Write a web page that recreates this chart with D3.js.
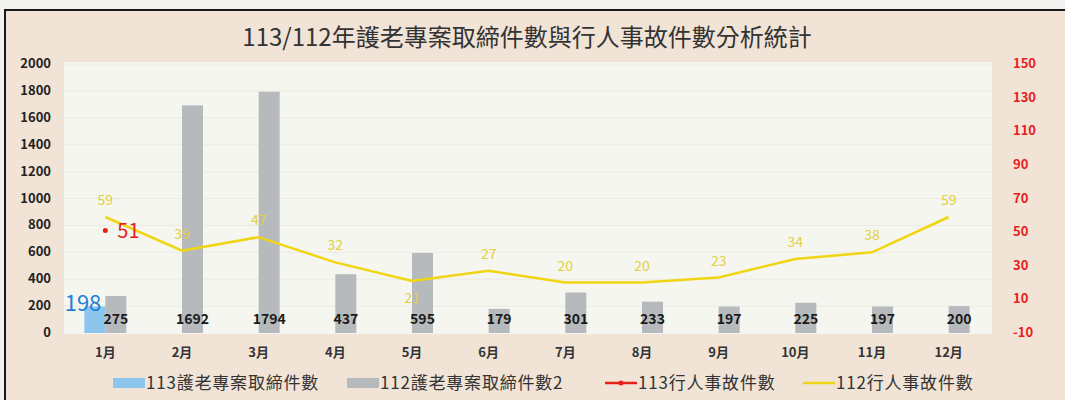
<!DOCTYPE html>
<html>

<head>
    <meta charset="utf-8">
    <title>113/112年護老專案取締件數與行人事故件數分析統計</title>
    <script src="https://cdnjs.cloudflare.com/ajax/libs/d3/7.8.5/d3.min.js"></script>
    <style>
        body { margin: 0; background: #f2f2f0; }
        text { font-family: "Noto Sans CJK TC", "Noto Sans", sans-serif; }
        .tick-left, .tick-right, .month { font-weight: bold; font-size: 13px; }
    </style>
</head>

<body>
    <div id="chart"></div>
    <script>
        // data
        const months = ["1月", "2月", "3月", "4月", "5月", "6月", "7月", "8月", "9月", "10月", "11月", "12月"];
        const enf113 = [198, null, null, null, null, null, null, null, null, null, null, null];
        const enf112 = [275, 1692, 1794, 437, 595, 179, 301, 233, 197, 225, 197, 200];
        const acc113 = [51, null, null, null, null, null, null, null, null, null, null, null];
        const acc112 = [59, 39, 47, 32, 21, 27, 20, 20, 23, 34, 38, 59];
        const leftTicks = [0, 200, 400, 600, 800, 1000, 1200, 1400, 1600, 1800, 2000];
        const rightTicks = [-10, 10, 30, 50, 70, 90, 110, 130, 150];
        const legendNames = ["113護老專案取締件數", "112護老專案取締件數2", "113行人事故件數", "112行人事故件數"];

        const W = 1065, H = 400;
        const svg = d3.select("#chart").append("svg")
            .attr("width", W).attr("height", H);

        // outer frame
        svg.append("rect").attr("x", 5).attr("y", 10).attr("width", W + 10).attr("height", H)
            .attr("fill", "#f1e3d6").attr("stroke", "#1a1a1a").attr("stroke-width", 2);

        // scales
        const x = d3.scaleBand().domain(months).range([67, 987]);
        const yL = d3.scaleLinear().domain([0, 2000]).range([333, 64]);
        const yR = d3.scaleLinear().domain([-10, 150]).range([333, 64]);
        const bw = 21;

        // plot area
        svg.append("rect").attr("x", 64).attr("y", 62).attr("width", 928).attr("height", 272)
            .attr("fill", "#f5f6ef");

        svg.append("g").selectAll("line").data(leftTicks.slice(1)).join("line")
            .attr("x1", 64).attr("x2", 992)
            .attr("y1", d => yL(d)).attr("y2", d => yL(d))
            .attr("stroke", "#ebebe3").attr("stroke-width", 1);

        // title
        svg.append("text").attr("x", 527).attr("y", 46).attr("text-anchor", "middle")
            .attr("font-size", 24).attr("fill", "#333")
            .text("113/112年護老專案取締件數與行人事故件數分析統計");

        // axes
        svg.append("g").selectAll("text").data(leftTicks).join("text")
            .attr("class", "tick-left")
            .attr("x", 51).attr("y", d => yL(d) + 4).attr("text-anchor", "end")
            .attr("fill", "#222").text(d => d);

        svg.append("g").selectAll("text").data(rightTicks).join("text")
            .attr("class", "tick-right")
            .attr("x", 1013).attr("y", d => yR(d) + 4)
            .attr("fill", "#e8201c").text(d => d);

        svg.append("g").selectAll("text").data(months).join("text")
            .attr("class", "month")
            .attr("x", d => x(d) + x.bandwidth() / 2).attr("y", 357).attr("text-anchor", "middle")
            .attr("fill", "#333").text(d => d);

        const cx = i => x(months[i]) + x.bandwidth() / 2;

        // bars 112
        svg.append("g").selectAll("rect").data(enf112).join("rect")
            .attr("x", (d, i) => cx(i)).attr("width", bw)
            .attr("y", d => yL(d)).attr("height", d => yL(0) - yL(d))
            .attr("fill", "#b7babd");

        // bars 113
        const b113 = enf113.map((v, i) => ({ v, i })).filter(d => d.v != null);
        svg.append("g").selectAll("rect").data(b113).join("rect")
            .attr("x", d => cx(d.i) - bw).attr("width", bw)
            .attr("y", d => yL(d.v)).attr("height", d => yL(0) - yL(d.v))
            .attr("fill", "#8cc6ee");

        // 112 bar labels
        svg.append("g").selectAll("text").data(enf112).join("text")
            .attr("x", (d, i) => cx(i) + bw / 2).attr("y", 324).attr("text-anchor", "middle")
            .attr("font-size", 14).attr("font-weight", "bold").attr("fill", "#1a1a1a")
            .text(d => d);

        svg.append("g").selectAll("text").data(b113).join("text")
            .attr("x", d => cx(d.i) - 4).attr("y", d => yL(d.v) + 5).attr("text-anchor", "end")
            .attr("font-size", 22).attr("fill", "#1e80d8")
            .text(d => d.v);

        // 112 accidents line
        const line = d3.line().x((d, i) => cx(i)).y(d => yR(d));
        svg.append("path").datum(acc112).attr("d", line)
            .attr("fill", "none").attr("stroke", "#f0d512").attr("stroke-width", 2.5);

        svg.append("g").selectAll("text").data(acc112).join("text")
            .attr("x", (d, i) => cx(i)).attr("y", (d, i) => i === 4 ? yR(d) + 22 : yR(d) - 12)
            .attr("text-anchor", "middle").attr("font-size", 14).attr("fill", "#e3cf40")
            .text(d => d);

        // 113 accidents
        const p113 = acc113.map((v, i) => ({ v, i })).filter(d => d.v != null);
        svg.append("g").selectAll("circle").data(p113).join("circle")
            .attr("cx", d => cx(d.i)).attr("cy", d => yR(d.v)).attr("r", 2.5)
            .attr("fill", "#e8201c");
        svg.append("g").selectAll("text").data(p113).join("text")
            .attr("x", d => cx(d.i) + 12).attr("y", d => yR(d.v) + 8)
            .attr("font-size", 20).attr("fill", "#e8201c")
            .text(d => d.v);

        // legend
        const legendKinds = ["bar", "bar", "marker", "line"];
        const legendColors = ["#8cc6ee", "#b7babd", "#e8201c", "#f0d512"];
        const legendX = [113, 347, 605, 803];
        legendNames.forEach((name, i) => {
            const g = svg.append("g").attr("transform", `translate(${legendX[i]},383)`);
            if (legendKinds[i] === "bar") {
                g.append("rect").attr("x", 0).attr("y", -5).attr("width", 32).attr("height", 10)
                    .attr("fill", legendColors[i]);
            } else {
                g.append("line").attr("x1", 0).attr("x2", 32).attr("y1", 0).attr("y2", 0)
                    .attr("stroke", legendColors[i]).attr("stroke-width", 2.5);
                if (legendKinds[i] === "marker")
                    g.append("circle").attr("cx", 16).attr("r", 2.5).attr("fill", legendColors[i]);
            }
            g.append("text").attr("x", 33).attr("y", 6)
                .attr("font-size", 17).attr("letter-spacing", 0.8).attr("fill", "#333").text(name);
        });
    </script>
</body>

</html>
